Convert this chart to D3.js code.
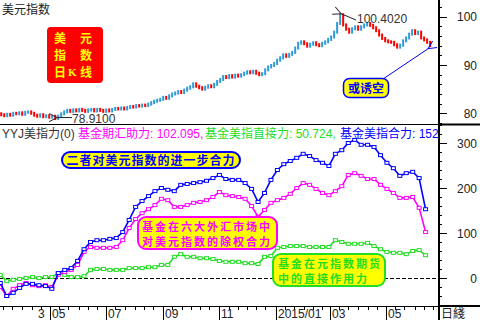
<!DOCTYPE html>
<html><head><meta charset="utf-8">
<script src="https://cdn.jsdelivr.net/npm/d3@7/dist/d3.min.js"></script>
<style>
html,body{margin:0;padding:0;background:#fff;overflow:hidden;}
svg{display:block;}
text{font-family:"Liberation Sans","Noto Sans CJK SC",sans-serif;}
.cjkb{font-family:"Noto Sans CJK SC",sans-serif;font-weight:700;}
</style></head><body>
<svg id="c" width="480" height="320"></svg>
<script>
// ---------------- data ----------------
// 美元指数 closes (sampled about every 3.26 calendar days)
const dxyFirstOpen = 79.9;
const dxyCloses = [
  79.7, 79.5, 79.8, 79.6, 80.0, 79.9, 80.1, 79.8, 80.2, 80.3,
  80.0, 79.6, 79.4, 79.7, 79.3, 79.5, 79.2, 79.4, 78.91, 79.4,
  79.9, 80.3, 80.6, 80.4, 80.7, 80.5, 80.8, 80.6, 80.4, 80.7,
  80.8, 80.5, 80.8, 80.6, 80.4, 80.7, 80.5, 80.8, 81.0, 80.9,
  81.1, 80.9, 81.2, 81.4, 81.3, 81.6, 81.5, 81.7, 81.6, 81.9,
  82.2, 82.5, 82.7, 82.9, 83.3, 83.1, 83.6, 84.0, 84.2, 84.5,
  84.3, 84.8, 85.2, 85.5, 86.1, 85.6, 85.3, 85.0, 85.4, 85.7,
  85.5, 86.0, 86.6, 87.0, 87.6, 87.4, 87.8, 87.5, 87.9, 87.7,
  88.0, 88.3, 88.6, 88.4, 88.7, 88.3, 88.0, 88.2, 89.0, 89.6,
  89.9, 90.3, 91.0, 91.5, 92.1, 91.8, 92.2, 92.6, 93.5, 94.5,
  94.8, 94.4, 93.9, 94.3, 94.6, 94.2, 94.0, 94.5, 94.8, 95.3,
  95.8, 96.8, 98.6, 100.402, 98.3, 97.4, 96.8, 97.5, 97.9, 97.4,
  97.9, 98.3, 98.6, 98.2, 97.7, 97.1, 96.2, 95.5, 95.0, 94.8,
  94.7, 94.2, 93.7, 94.1, 95.0, 95.6, 96.4, 97.1, 96.5, 96.8,
  95.6, 95.2, 94.7, 94.0
];
const dxyHighLabel = "100.4020";
const dxyLowLabel = "78.9100";

// weekly YYJ series
const fundFuturesHelp = [ // 基金期汇助力 (magenta)
  -20, -40, -24, -16, -11, -16, -18, -16, -20, 7,
  13, 18, 29, 58, 69, 67, 67, 67, 69, 84,
  111, 131, 144, 153, 162, 176, 173, 158, 158, 162,
  167, 169, 173, 180, 191, 184, 182, 180, 176, 160,
  136, 151, 167, 173, 178, 187, 200, 211, 207, 198,
  189, 184, 193, 204, 229, 233, 227, 220, 220, 207,
  198, 189, 178, 178, 180, 156, 102.095
];
const fundDirect = [ // 基金美指直接力 (green)
  7, -7, -4, -2, 0, 2, 0, 2, 2, 11,
  7, 2, 2, 4, 18, 20, 20, 18, 18, 18,
  22, 22, 22, 24, 24, 29, 29, 47, 53, 47,
  47, 44, 44, 42, 38, 36, 36, 36, 33, 33,
  31, 47, 49, 67, 69, 71, 71, 71, 69, 69,
  69, 69, 84, 80, 76, 76, 76, 78, 71, 64,
  58, 56, 56, 53, 60, 62, 50.724
];
const fundTotal = [ // 基金美指合力 (blue)
  -11, -40, -33, -22, -13, -13, -16, -18, -24, 11,
  18, 22, 38, 64, 80, 84, 84, 87, 89, 102,
  129, 158, 171, 182, 193, 200, 196, 193, 207, 209,
  211, 213, 216, 222, 229, 220, 218, 218, 211, 198,
  169, 189, 218, 240, 253, 260, 267, 276, 271, 262,
  256, 249, 276, 284, 300, 307, 296, 296, 291, 273,
  256, 244, 227, 233, 236, 222, 152.819
];
const topTicks = [80, 90, 100];
const bottomTicks = [0, 100, 200, 300];
const legendItems = [
  {text: "YYJ美指力(0)", color: "#333333"},
  {text: "基金期汇助力: 102.095,", color: "#ff00ff"},
  {text: "基金美指直接力: 50.724,", color: "#22dd22"},
  {text: "基金美指合力: 152.819", color: "#0000ff"}
];
const legendX = [2, 78, 205, 340];
const strayLabel = "3";
const periodLabel = "日綫";

// ---------------- scales ----------------
const svg = d3.select("#c");
const PR = 439, SEP = 124.5, AXY = 306;
const x = d3.scaleTime().domain([new Date(2014,4,1), new Date(2015,4,1)]).range([50, 386]);
const yT = d3.scaleLinear().domain([80, 100]).range([113.3, 16.7]);
const yB = d3.scaleLinear().domain([0, 300]).range([278, 143]);

const BAR_START = new Date(2014,2,9);
const BAR_STEP_HOURS = 78.2;
const bars = dxyCloses.map((c,i)=>({
  date: d3.timeHour.offset(BAR_START, Math.round(i*BAR_STEP_HOURS)),
  open: i ? dxyCloses[i-1] : dxyFirstOpen, close: c}));
const LINE_START = new Date(2014,2,8);
const pts = arr => arr.map((v,j)=>({date: d3.timeDay.offset(LINE_START, 7*j), v}));

const defs = svg.append("defs");
defs.append("clipPath").attr("id","clipT").append("rect").attr("x",0).attr("y",0).attr("width",PR-1).attr("height",SEP);
defs.append("clipPath").attr("id","clipB").append("rect").attr("x",0).attr("y",SEP+1).attr("width",PR-1).attr("height",AXY-SEP-1);
defs.append("clipPath").attr("id","clipL").append("rect").attr("x",0).attr("y",SEP).attr("width",PR-1).attr("height",20);
function mk(id,color){
  defs.append("marker").attr("id",id).attr("viewBox","-1 -6 10 12").attr("refX",0).attr("refY",0)
    .attr("markerWidth",10).attr("markerHeight",12).attr("markerUnits","userSpaceOnUse").attr("orient","auto-start-reverse")
    .append("path").attr("d","M8,-4 L0,0 L8,4").attr("fill","none").attr("stroke",color).attr("stroke-width",1);
}
mk("arrK","#222"); mk("arrB","#0000ff");

// ---------------- top panel ----------------
const gT = svg.append("g").attr("clip-path","url(#clipT)");
gT.selectAll("rect.bar").data(bars).join("rect").attr("class","bar")
  .attr("x",d=>x(d.date)-1).attr("width",2)
  .attr("y",d=>yT(Math.max(d.open,d.close))-1.5)
  .attr("height",d=>Math.abs(yT(d.open)-yT(d.close))+3)
  .attr("fill",d=>d.close>=d.open ? "#2f9ad8" : "#ff0000");

svg.append("text").attr("x",2).attr("y",14).attr("font-size",12).attr("fill","#222").text("美元指数");

// red box
svg.append("rect").attr("x",47).attr("y",27).attr("width",56).attr("height",56).attr("rx",4).attr("fill","#ff0000");
const rbt = svg.append("text").attr("class","cjkb").attr("font-size",12).attr("fill","#ffff00");
[["美",54,43],["元",80,43],["指",54,60],["数",80,60],["日",54,77]].forEach(([t,tx,ty])=>
  rbt.append("tspan").attr("x",tx).attr("y",ty).text(t));
rbt.append("tspan").attr("x",68).attr("y",76).attr("font-family","Liberation Serif").attr("font-size",11).text("K");
rbt.append("tspan").attr("x",80).attr("y",77).text("线");

// high annotation
const hiBar = bars.reduce((a,b)=>b.close>a.close?b:a);
const loBar = bars.reduce((a,b)=>b.close<a.close?b:a);
const lastBar = bars[bars.length-1];
svg.append("line").attr("x1",x(hiBar.date)+1).attr("y1",yT(hiBar.close)-1).attr("x2",356).attr("y2",20)
  .attr("stroke","#222").attr("stroke-width",1).attr("marker-start","url(#arrK)");
svg.append("text").attr("x",357).attr("y",23).attr("font-size",12).attr("fill","#333").text(dxyHighLabel);
// low annotation
svg.append("line").attr("x1",x(loBar.date)+2).attr("y1",yT(loBar.close)-1).attr("x2",72).attr("y2",yT(loBar.close)-1)
  .attr("stroke","#222").attr("stroke-width",1).attr("marker-start","url(#arrK)");
svg.append("text").attr("x",72).attr("y",122.5).attr("font-size",12).attr("fill","#333").text(dxyLowLabel);

// 或诱空
svg.append("line").attr("x1",383).attr("y1",79).attr("x2",x(lastBar.date)-2).attr("y2",yT(lastBar.close)+3)
  .attr("stroke","#0000ff").attr("stroke-width",1).attr("marker-end","url(#arrB)");
svg.append("rect").attr("x",343.5).attr("y",78.5).attr("width",45).attr("height",19).attr("rx",6)
  .attr("fill","#ffff00").attr("stroke","#0000ff").attr("stroke-width",1.5);
svg.append("text").attr("class","cjkb").attr("x",366).attr("y",92.5).attr("text-anchor","middle").attr("font-size",12).attr("fill","#0000ff").text("或诱空");

// ---------------- bottom panel ----------------
const gB = svg.append("g").attr("clip-path","url(#clipB)");
gB.append("line").attr("x1",0).attr("x2",PR).attr("y1",yB(0)+0.5).attr("y2",yB(0)+0.5)
  .attr("stroke","#000").attr("stroke-dasharray","4,2").attr("stroke-width",1);
const line = d3.line().x(d=>x(d.date)).y(d=>yB(d.v));
[[fundDirect,"#22dd22"],[fundFuturesHelp,"#ff00ff"],[fundTotal,"#0000ff"]].forEach(([arr,col])=>{
  const p = pts(arr);
  gB.append("path").datum(p).attr("d",line).attr("fill","none").attr("stroke",col).attr("stroke-width",1.6);
  gB.selectAll(null).data(p).join("rect").attr("x",d=>x(d.date)-2).attr("y",d=>yB(d.v)-1.5)
    .attr("width",4).attr("height",3).attr("fill","#fff").attr("stroke",col).attr("stroke-width",1);
});

// boxes (multi-line text as one element)
function box(bx,by,bw,bh,col,lines,tx,baseY,lh,anchor,fs,ls){
  svg.append("rect").attr("x",bx).attr("y",by).attr("width",bw).attr("height",bh).attr("rx",Math.min(8,bh/2))
    .attr("fill","#ffff00").attr("stroke",col).attr("stroke-width",2);
  const t = svg.append("text").attr("class","cjkb").attr("text-anchor",anchor).attr("font-size",fs)
    .attr("letter-spacing",ls).attr("fill",col);
  lines.forEach((s,k)=>t.append("tspan").attr("x",tx).attr("y",baseY+k*lh).text(s));
}
box(62,152,178,16,"#0000ff",["二者对美元指数的进一步合力"],151,164.5,0,"middle",12,1);
box(138,217,139,32,"#ff00ff",["基金在六大外汇市场中","对美元指数的除权合力"],142,230.5,15,"start",11,2);
box(273,254,112,32,"#22dd22",["基金在元指数期货","中的直接作用力"],278,267.5,15,"start",11,2);

// legend
const gL = svg.append("g").attr("clip-path","url(#clipL)");
legendItems.forEach((d,i)=>gL.append("text").attr("x",legendX[i]).attr("y",137.5).attr("font-size",12).attr("fill",d.color).text(d.text));

// ---------------- frame & axes ----------------
svg.append("line").attr("x1",0).attr("x2",PR).attr("y1",SEP).attr("y2",SEP).attr("stroke","#000").attr("stroke-width",1);
svg.append("line").attr("x1",PR).attr("x2",480).attr("y1",SEP).attr("y2",SEP).attr("stroke","#000").attr("stroke-width",2);
svg.append("line").attr("x1",0).attr("x2",PR).attr("y1",AXY+0.5).attr("y2",AXY+0.5).attr("stroke","#000").attr("stroke-width",1);
svg.append("line").attr("x1",PR).attr("x2",480).attr("y1",AXY).attr("y2",AXY).attr("stroke","#000").attr("stroke-width",2);
svg.append("line").attr("x1",PR).attr("x2",PR).attr("y1",0).attr("y2",320).attr("stroke","#000").attr("stroke-width",2);

// right axes
function yAxis(scale, majors, minorStep, lo, hi){
  d3.range(lo, hi+0.001, minorStep).forEach(v=>{
    const yy = Math.round(scale(v))+0.5;
    const major = majors.includes(v);
    svg.append("line").attr("x1",PR).attr("x2",PR+(major?8:3)).attr("y1",yy).attr("y2",yy).attr("stroke","#000").attr("stroke-width",1);
  });
  majors.forEach(v=>svg.append("text").attr("x",477).attr("y",scale(v)+4.5).attr("text-anchor","end")
    .attr("font-size",12).attr("fill","#222").text(v));
}
yAxis(yT, topTicks, 2, 78, 102);
yAxis(yB, bottomTicks, 20, -60, 340);

// x axis
const d0 = x.invert(0), d1 = x.invert(PR-1);
const majors = d3.timeMonth.every(2).range(d0, d1);
const minors = d3.timeDay.every(10).range(d0, d1).filter(d=>d.getDate()!==31);
minors.forEach(d=>{const xx=Math.round(x(d))+0.5;
  svg.append("line").attr("x1",xx).attr("x2",xx).attr("y1",AXY).attr("y2",AXY+4).attr("stroke","#000");});
const fmt = d => d.getMonth()===0 ? d3.timeFormat("%Y/%m")(d) : d3.timeFormat("%m")(d);
majors.forEach(d=>{const xx=Math.round(x(d))+0.5;
  svg.append("line").attr("x1",xx).attr("x2",xx).attr("y1",AXY).attr("y2",320).attr("stroke","#000");
  svg.append("text").attr("x",xx+1.5).attr("y",318).attr("font-size",12).attr("fill","#222").text(fmt(d));});
svg.append("text").attr("x",38).attr("y",318).attr("font-size",12).attr("fill","#222").text(strayLabel);
svg.append("text").attr("x",441).attr("y",318).attr("font-size",12).attr("fill","#222").text(periodLabel);
</script>
</body></html>
